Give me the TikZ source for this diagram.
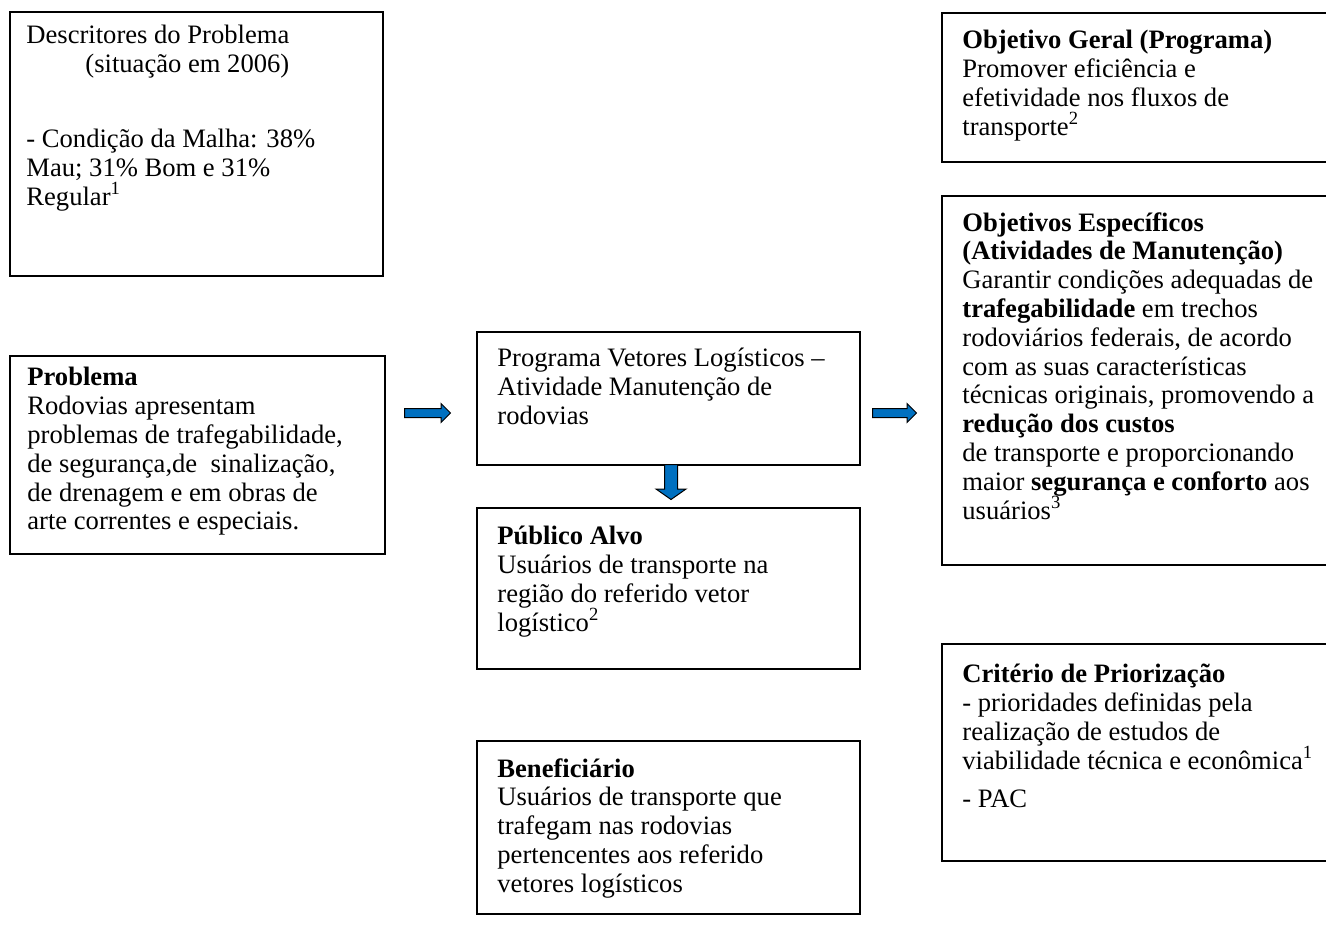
\documentclass[tikz,border=0pt]{standalone}
\usepackage{fontspec}
\setmainfont{Liberation Serif}
\usetikzlibrary{shapes.arrows}
\definecolor{arrowblue}{RGB}{0,112,192}
\tikzset{
  boxframe/.style={draw, line width=1pt, anchor=north west, inner sep=0pt},
  % first baseline sits 22 units below the anchor
  boxtext/.style={anchor=north west, align=left, inner sep=0pt,
    font=\fontsize{13.3}{14.4}\selectfont,
    execute at begin node={\rule{0pt}{11pt}}},
  blockarrow/.style={single arrow, draw=black, line width=0.5pt, fill=arrowblue,
    anchor=tail, inner sep=2pt, single arrow head extend=2.5pt,
    single arrow tip angle=90, minimum height=23pt},
}
\begin{document}
\begin{tikzpicture}[x=0.5pt, y=-0.5pt]
      \useasboundingbox (0,0) rectangle (1326,928);
      \clip (0,0) rectangle (1326,928);
      %% boxes
      \node [boxframe, minimum width=186.5pt, minimum height=132pt] (descr) at (9,11) {};
      \node [boxframe, minimum width=187.5pt, minimum height=99pt] (probl) at (9,355) {};
      \node [boxframe, minimum width=191.5pt, minimum height=66.5pt] (prog) at (476,331) {};
      \node [boxframe, minimum width=191.5pt, minimum height=80.5pt] (publ) at (476,507) {};
      \node [boxframe, minimum width=191.5pt, minimum height=86.5pt] (benef) at (476,740) {};
      \node [boxframe, minimum width=199.5pt, minimum height=74.5pt] (objger) at (941,12) {};
      \node [boxframe, minimum width=199.5pt, minimum height=184.5pt] (objesp) at (941,195) {};
      \node [boxframe, minimum width=199.5pt, minimum height=108.5pt] (crit) at (941,643) {};
      %% texts
      \node [boxtext] (descrtxt) at (26,25) {Descritores do Problema\\
        \hspace*{29.5pt}(situação em 2006)\\[23pt]
        - Condição da Malha: 38\%\\
        Mau; 31\% Bom e 31\%\\
        Regular\textsuperscript{1}};
      \node [boxtext] (probltxt) at (27,367) {\textbf{Problema}\\
        Rodovias apresentam\\
        problemas de trafegabilidade,\\
        de segurança,de\ \ sinalização,\\
        de drenagem e em obras de\\
        arte correntes e especiais.};
      \node [boxtext] (progtxt) at (497,348) {Programa Vetores Logísticos –\\
        Atividade Manutenção de\\
        rodovias};
      \node [boxtext] (publtxt) at (497,526) {\textbf{Público Alvo}\\
        Usuários de transporte na\\
        região do referido vetor\\
        logístico\textsuperscript{2}};
      \node [boxtext] (beneftxt) at (497,758) {\textbf{Beneficiário}\\
        Usuários de transporte que\\
        trafegam nas rodovias\\
        pertencentes aos referido\\
        vetores logísticos};
      \node [boxtext] (objgertxt) at (962,30) {\textbf{Objetivo Geral (Programa)}\\
        Promover eficiência e\\
        efetividade nos fluxos de\\
        transporte\textsuperscript{2}};
      \node [boxtext] (objesptxt) at (962,212) {\textbf{Objetivos Específicos}\\
        \textbf{(Atividades de Manutenção)}\\
        Garantir condições adequadas de\\
        \textbf{trafegabilidade} em trechos\\
        rodoviários federais, de acordo\\
        com as suas características\\
        técnicas originais, promovendo a\\
        \textbf{redução dos custos}\\
        de transporte e proporcionando\\
        maior \textbf{segurança e conforto} aos\\
        usuários\textsuperscript{3}};
      \node [boxtext] (crittxt) at (962,664) {\textbf{Critério de Priorização}\\
        - prioridades definidas pela\\
        realização de estudos de\\
        viabilidade técnica e econômica\textsuperscript{1}\\[4.5pt]
        - PAC};
      %% arrows
      \node [blockarrow] (toprog) at (404,413) {};
      \node [blockarrow, minimum height=22pt] (toobj) at (872,413) {};
      \node [blockarrow, shape border rotate=270, inner sep=3pt,
        single arrow head extend=4.25pt, single arrow tip angle=110,
        minimum height=17.5pt] (topubl) at (671,464) {};
    \end{tikzpicture}
\end{document}
